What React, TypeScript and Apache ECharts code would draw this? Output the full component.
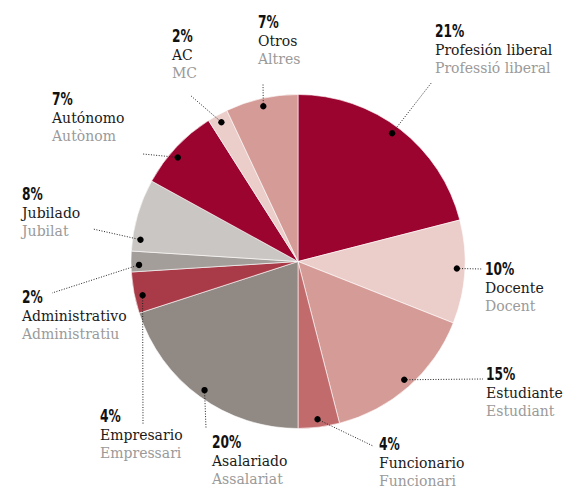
import React, { useEffect, useRef } from "react";
import * as echarts from "echarts";

// ---- data ----
const categories = [
  "Profesión liberal", "Docente", "Estudiante", "Funcionario", "Asalariado",
  "Empresario", "Administrativo", "Jubilado", "Autónomo", "AC", "Otros",
];
const categoriesCa = [
  "Professió liberal", "Docent", "Estudiant", "Funcionari", "Assalariat",
  "Empressari", "Administratiu", "Jubilat", "Autònom", "MC", "Altres",
];
const values = [21, 10, 15, 4, 20, 4, 2, 7, 8, 2, 7];
const pctLabels = ["21%", "10%", "15%", "4%", "20%", "4%", "2%", "8%", "7%", "2%", "7%"];

// ---- styles / layout ----
const colors = [
  "#9b042f", "#ebcdca", "#d59b97", "#c26b6d", "#918984",
  "#a93b48", "#a49e9a", "#cac6c3", "#9b042f", "#ebcdca", "#d59b97",
];
const CX = 298;
const CY = 261.5;
const R = 167;
const DOT_R = 159;
// label anchor: left x, top y of the percentage line
const labelPos: [number, number][] = [
  [435, 25], [485, 263], [486, 368], [379, 438], [212, 436],
  [100, 410], [22, 291], [22, 188], [52, 93], [172, 30], [258, 16],
];
// where each dotted leader line ends
const lineEnd: [number, number][] = [
  [432, 82], [482, 269], [483, 379], [373, 446], [206, 428],
  [143, 425], [52, 293], [93, 229], [143, 154], [190, 95], [263, 83],
];
// fraction of the slice's angular span at which the dot is placed
const dotFrac = [0.48, 0.47, 0.49, 0.51, 0.5, 0.4, 0.33, 0.17, 0.42, 0.5, 0.5];

export default function App() {
  const ref = useRef<HTMLDivElement>(null);

  useEffect(() => {
    if (!ref.current) return;
    const chart = echarts.init(ref.current, undefined, { renderer: "svg" });

    const total = values.reduce((a, b) => a + b, 0);
    const graphics: any[] = [];
    let cum = 0;
    values.forEach((v, i) => {
      const a0 = (cum / total) * Math.PI * 2;
      const a1 = ((cum + v) / total) * Math.PI * 2;
      cum += v;
      const a = a0 + (a1 - a0) * dotFrac[i];
      const dx = CX + DOT_R * Math.sin(a);
      const dy = CY - DOT_R * Math.cos(a);
      graphics.push({
        type: "polyline",
        z: 100,
        silent: true,
        shape: { points: [[dx, dy], lineEnd[i]] },
        style: { stroke: "#222", lineWidth: 1, lineDash: [1, 1.6], fill: null },
      });
      graphics.push({
        type: "circle",
        z: 101,
        silent: true,
        shape: { cx: dx, cy: dy, r: 3.2 },
        style: { fill: "#000" },
      });
      const [lx, ly] = labelPos[i];
      graphics.push({
        type: "text",
        z: 102,
        x: lx,
        y: ly + 6.5,
        scaleX: 0.8,
        silent: true,
        style: {
          text: pctLabels[i],
          fill: "#111",
          font: 'bold 17px "DejaVu Sans Condensed"',
          align: "left",
          verticalAlign: "middle",
        },
      });
      graphics.push({
        type: "text",
        z: 102,
        x: lx,
        y: ly + 24.5,
        silent: true,
        style: {
          text: categories[i],
          fill: "#1a1a1a",
          font: '14px "DejaVu Serif"',
          align: "left",
          verticalAlign: "middle",
        },
      });
      graphics.push({
        type: "text",
        z: 102,
        x: lx,
        y: ly + 42.5,
        silent: true,
        style: {
          text: categoriesCa[i],
          fill: "#9a9a9a",
          font: '14px "DejaVu Serif"',
          align: "left",
          verticalAlign: "middle",
        },
      });
    });

    chart.setOption({
      animation: false,
      series: [
        {
          type: "pie",
          center: [CX, CY],
          radius: [0, R],
          startAngle: 90,
          clockwise: true,
          silent: true,
          label: { show: false },
          labelLine: { show: false },
          itemStyle: { borderColor: "#ffffff", borderWidth: 0.6 },
          emphasis: { disabled: true },
          data: categories.map((c, i) => ({
            name: c,
            value: values[i],
            itemStyle: { color: colors[i] },
          })),
        },
      ],
      graphic: graphics,
    });

    return () => chart.dispose();
  }, []);

  return (
    <div
      ref={ref}
      style={{ position: "fixed", left: 0, top: 0, width: 570, height: 493, background: "#fff" }}
    />
  );
}
